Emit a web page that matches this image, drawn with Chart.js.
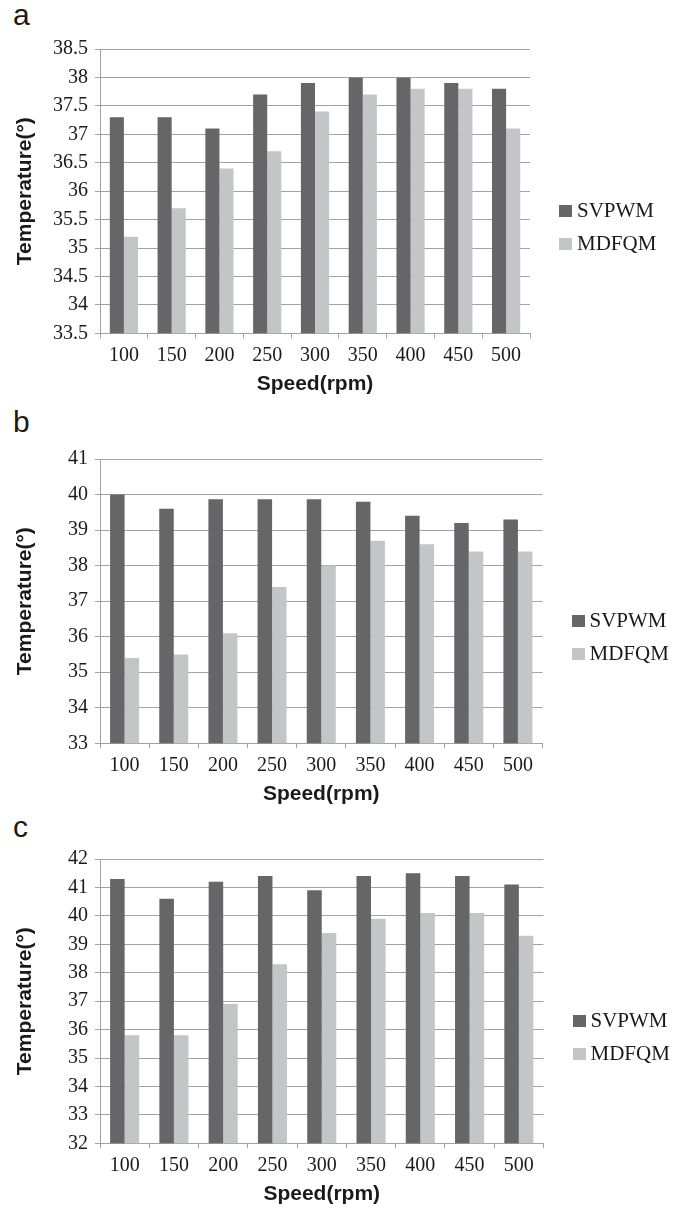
<!DOCTYPE html>
<html>
<head>
<meta charset="utf-8">
<script src="https://cdn.jsdelivr.net/npm/chart.js@4/dist/chart.umd.min.js"></script>
<style>
    body { margin: 0; background: #fff; width: 675px; height: 1210px; position: relative; overflow: hidden; }
    .panel { position: absolute; left: 0; width: 675px; height: 375px; }
    .panel canvas { position: absolute; left: 0; top: 0; }
    .letter { position: absolute; left: 13px; font: 30px "Liberation Sans", Arial, sans-serif; line-height: 30px; color: #1a1a1a; }
    .legend { position: absolute; }
    .legend-item { display: flex; align-items: center; height: 33px; }
    .legend-box { width: 13px; height: 12px; margin-right: 5px; }
    .legend-text { font: 21px "Liberation Serif", "Times New Roman", serif; color: #1a1a1a; }
</style>
</head>
<body>
<div class="letter" style="top:0px">a</div>
<div class="letter" style="top:407px">b</div>
<div class="letter" style="top:812px">c</div>

<div class="panel" style="top:30px"><canvas id="chartA" width="675" height="375"></canvas><div class="legend" id="legendA"></div></div>
<div class="panel" style="top:440px"><canvas id="chartB" width="675" height="375"></canvas><div class="legend" id="legendB"></div></div>
<div class="panel" style="top:840px"><canvas id="chartC" width="675" height="375"></canvas><div class="legend" id="legendC"></div></div>

<script>
// motor speeds on the x axis
const speeds = ["100", "150", "200", "250", "300", "350", "400", "450", "500"];
const seriesNames = ["SVPWM", "MDFQM"];

// (a)
const svpwmA = [37.3, 37.3, 37.1, 37.7, 37.9, 38.0, 38.0, 37.9, 37.8];
const mdfqmA = [35.2, 35.7, 36.4, 36.7, 37.4, 37.7, 37.8, 37.8, 37.1];
const yTicksA = [33.5, 34, 34.5, 35, 35.5, 36, 36.5, 37, 37.5, 38, 38.5];

// (b)
const svpwmB = [40.0, 39.6, 39.87, 39.87, 39.87, 39.8, 39.4, 39.2, 39.3];
const mdfqmB = [35.4, 35.5, 36.1, 37.4, 38.0, 38.7, 38.6, 38.4, 38.4];
const yTicksB = [33, 34, 35, 36, 37, 38, 39, 40, 41];

// (c)
const svpwmC = [41.3, 40.6, 41.2, 41.4, 40.9, 41.4, 41.5, 41.4, 41.1];
const mdfqmC = [35.8, 35.8, 36.9, 38.3, 39.4, 39.9, 40.1, 40.1, 39.3];
const yTicksC = [32, 33, 34, 35, 36, 37, 38, 39, 40, 41, 42];

const darkGrey = "#666668";
const lightGrey = "#c4c5c7";
const gridGrey = "#a2a2a2";
const textColor = "#1a1a1a";

// legend as html next to the plot area
const htmlLegend = {
    id: "htmlLegend",
    afterUpdate(chart, args, opts) {
        const box = document.getElementById(opts.containerID);
        box.innerHTML = "";
        const items = chart.options.plugins.legend.labels.generateLabels(chart);
        items.forEach(item => {
            let row = document.createElement("div");
            row.className = "legend-item";
            let swatch = document.createElement("span");
            swatch.className = "legend-box";
            swatch.style.background = item.fillStyle;
            let label = document.createElement("span");
            label.className = "legend-text";
            label.textContent = item.text;
            row.appendChild(swatch);
            row.appendChild(label);
            box.appendChild(row);
        });
        const area = chart.chartArea;
        box.style.left = (area.right + 29) + "px";
        box.style.top = ((area.top + area.bottom) / 2 + 36 - items.length * 33 / 2) + "px";
    }
};

function makeChart(canvasId, legendId, svpwm, mdfqm, yTicks, padRight) {
    let ctx = document.getElementById(canvasId).getContext("2d");
    return new Chart(ctx, {
        type: "bar",
        data: {
            labels: speeds,
            datasets: [
                { label: seriesNames[0], data: svpwm, backgroundColor: darkGrey },
                { label: seriesNames[1], data: mdfqm, backgroundColor: lightGrey }
            ]
        },
        options: {
            responsive: false,
            animation: false,
            layout: { padding: { top: 16.7, right: padRight, bottom: 0, left: 0 } },
            datasets: { bar: { categoryPercentage: 0.59, barPercentage: 1 } },
            plugins: {
                legend: { display: false },
                tooltip: { enabled: false },
                htmlLegend: { containerID: legendId }
            },
            scales: {
                x: {
                    grid: { drawOnChartArea: false, drawTicks: true, tickLength: 5, color: gridGrey },
                    border: { color: gridGrey },
                    ticks: {
                        padding: 5,
                        color: textColor,
                        font: { family: "'Liberation Serif', 'Times New Roman', serif", size: 20 }
                    },
                    title: {
                        display: true,
                        text: "Speed(rpm)",
                        color: textColor,
                        padding: { top: 0, bottom: 8 },
                        font: { family: "'Liberation Sans', Arial, sans-serif", size: 21, weight: "bold" }
                    },
                    afterFit: s => { s.height = 71.7; }
                },
                y: {
                    min: yTicks[0],
                    max: yTicks[yTicks.length - 1],
                    afterBuildTicks: s => { s.ticks = yTicks.map(v => ({ value: v })); },
                    grid: { color: gridGrey, tickLength: 5 },
                    border: { color: gridGrey },
                    ticks: {
                        padding: 7,
                        color: textColor,
                        callback: v => String(v),
                        font: { family: "'Liberation Serif', 'Times New Roman', serif", size: 20 }
                    },
                    title: {
                        display: true,
                        text: "Temperature(°)",
                        color: textColor,
                        padding: { top: 13, bottom: 0 },
                        font: { family: "'Liberation Sans', Arial, sans-serif", size: 21, weight: "bold" }
                    },
                    afterFit: s => { s.width = 100; }
                }
            }
        },
        plugins: [htmlLegend]
    });
}

makeChart("chartA", "legendA", svpwmA, mdfqmA, yTicksA, 145);
makeChart("chartB", "legendB", svpwmB, mdfqmB, yTicksB, 132.5);
makeChart("chartC", "legendC", svpwmC, mdfqmC, yTicksC, 131.5);
</script>
</body>
</html>
